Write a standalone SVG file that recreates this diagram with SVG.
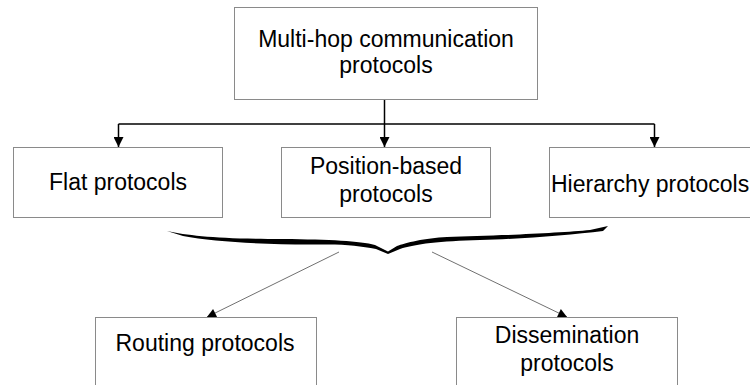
<svg xmlns="http://www.w3.org/2000/svg" width="750" height="385" viewBox="0 0 750 385">
<defs>
<style>
.box{fill:#fff;stroke:#8a8a8a;stroke-width:1}
.t{font-family:"Liberation Sans",Arial,sans-serif;font-size:23px;fill:#000;text-anchor:middle}
.c1{fill:none;stroke:#000;stroke-width:1.5}
.c2{fill:none;stroke:#707070;stroke-width:1}
</style>
<marker id="ah" viewBox="0 0 10 10" refX="10" refY="5" markerWidth="10" markerHeight="10" markerUnits="userSpaceOnUse" orient="auto">
<path d="M0,0 L10,5 L0,10 Z" fill="#000"/>
</marker>
<marker id="ah2" viewBox="0 0 10 10" refX="10" refY="5" markerWidth="11" markerHeight="9" markerUnits="userSpaceOnUse" orient="auto">
<path d="M0,0 L10,5 L0,10 Z" fill="#000"/>
</marker>
</defs>
<rect width="750" height="385" fill="#fff"/>
<g id="connectors">
<path class="c1" d="M384.5,99 V124"/>
<path class="c1" d="M118.5,124 H654.5"/>
<path class="c1" d="M118.5,124 V147" marker-end="url(#ah)"/>
<path class="c1" d="M384.5,124 V147" marker-end="url(#ah)"/>
<path class="c1" d="M654.5,124 V147" marker-end="url(#ah)"/>
<path class="c2" d="M339,252 L207,317" marker-end="url(#ah2)"/>
<path class="c2" d="M432,252 L567,317" marker-end="url(#ah2)"/>
</g>
<g id="brace">
<path fill="#000" d="M167,231 C190,236 220,239 283,239 C330,239.5 360,241 375,245 L388,251.5 L397,246 C405,243 425,238 447,237 C490,236 560,233 590,230 L608,226 L603,231 C570,235 520,239 480,240 C440,241 415,244 400,249 L388,254 L376,249 C360,246 345,244 320,244.5 C270,245 215,242 183,236 Z"/>
</g>
<g id="n-top">
<rect class="box" x="234.5" y="7.5" width="303" height="92"/>
<text class="t" x="386" y="47">Multi-hop communication</text>
<text class="t" x="386" y="73">protocols</text>
</g>
<g id="n-flat">
<rect class="box" x="13.5" y="147.5" width="209" height="70"/>
<text class="t" x="118" y="190">Flat protocols</text>
</g>
<g id="n-position">
<rect class="box" x="281.5" y="147.5" width="209" height="70"/>
<text class="t" x="386" y="174">Position-based</text>
<text class="t" x="386" y="202">protocols</text>
</g>
<g id="n-hierarchy">
<rect class="box" x="549.5" y="147.5" width="212" height="70"/>
<text class="t" x="551" y="192" style="text-anchor:start">Hierarchy protocols</text>
</g>
<g id="n-routing">
<rect class="box" x="95.5" y="317.5" width="221" height="80"/>
<text class="t" x="205" y="351">Routing protocols</text>
</g>
<g id="n-dissemination">
<rect class="box" x="456.5" y="317.5" width="221" height="80"/>
<text class="t" x="567" y="343">Dissemination</text>
<text class="t" x="567" y="371">protocols</text>
</g>
</svg>
